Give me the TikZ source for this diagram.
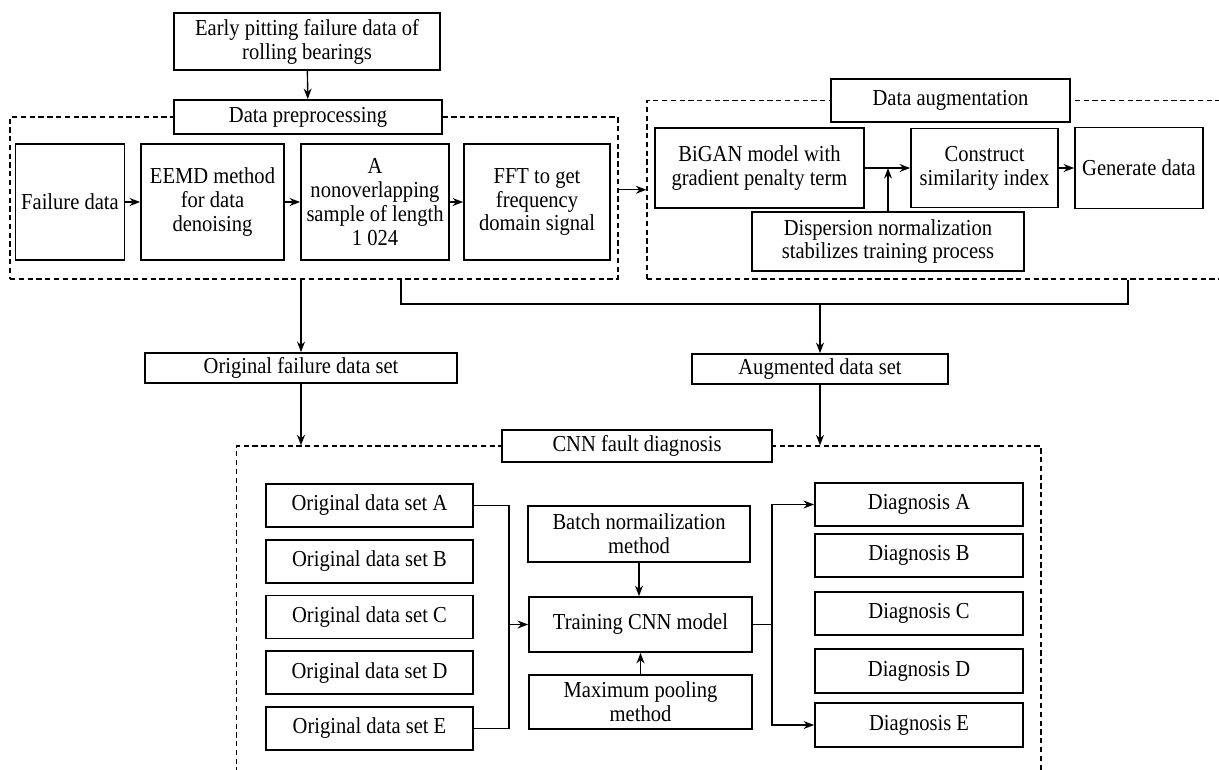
\documentclass[tikz,border=0pt]{standalone}
\usepackage{fontspec}
\setmainfont{Liberation Serif}[FakeStretch=0.9]
\usetikzlibrary{arrows.meta}
\tikzset{
  box/.style={draw, line width=1pt, fill=white, align=center, inner sep=0pt,
    font=\fontsize{13}{13.6}\selectfont},
  group/.style={draw, line width=0.7pt, dash pattern=on 3pt off 2pt, inner sep=0pt},
  link/.style={line width=0.8pt, -{Stealth[length=6pt,width=4.5pt]}},
  wire/.style={line width=0.8pt}
}
\begin{document}
\begin{tikzpicture}[x=0.02cm, y=-0.02cm]
\fill[white] (0,0) rectangle (1219,769);
\useasboundingbox (0,0) rectangle (1219,769);

% dashed groups
\node[group, minimum width=12.16cm, minimum height=3.24cm] (prepgrp) at (314,198) {};
\node[group, minimum width=11.86cm, minimum height=3.57cm] (auggrp) at (943.5,189.75) {};
\node[group, minimum width=16.09cm, minimum height=7.08cm] (cnngrp) at (638.75,623) {};

% preprocessing
\node[box, minimum width=5.32cm, minimum height=1.14cm] (top) at (307,41.5) {Early pitting failure data of\\rolling bearings};
\node[box, minimum width=5.36cm, minimum height=0.68cm] (prep) at (308,117) {Data preprocessing};
\node[box, minimum width=2.18cm, minimum height=2.32cm] (fail) at (70,202) {Failure data};
\node[box, minimum width=2.86cm, minimum height=2.32cm] (eemd) at (212.5,202) {EEMD method\\for data\\denoising};
\node[box, minimum width=2.96cm, minimum height=2.32cm] (samp) at (375,202) {A\\nonoverlapping\\sample of length\\1 024};
\node[box, minimum width=2.92cm, minimum height=2.32cm] (fft) at (537,202) {FFT to get\\frequency\\domain signal};

% augmentation
\node[box, minimum width=4.78cm, minimum height=0.86cm] (augt) at (950.5,100.5) {Data augmentation};
\node[box, minimum width=4.18cm, minimum height=1.60cm] (bigan) at (759.5,168) {BiGAN model with\\gradient penalty term};
\node[box, minimum width=2.94cm, minimum height=1.58cm] (cons) at (984.5,168) {Construct\\similarity index};
\node[box, minimum width=2.56cm, minimum height=1.62cm] (gen) at (1139,168) {Generate data};
\node[box, minimum width=5.44cm, minimum height=1.18cm] (disp) at (888,241.5) {Dispersion normalization\\stabilizes training process};

% data sets
\node[box, minimum width=6.24cm, minimum height=0.60cm] (orig) at (301,368) {Original failure data set};
\node[box, minimum width=5.12cm, minimum height=0.60cm] (augd) at (820,369) {Augmented data set};

% diagnosis
\node[box, minimum width=5.40cm, minimum height=0.64cm] (cnn) at (637,446) {CNN fault diagnosis};
\node[box, minimum width=4.14cm, minimum height=0.86cm] (oa) at (369.5,505.5) {Original data set A};
\node[box, minimum width=4.14cm, minimum height=0.86cm] (ob) at (369.5,561.25) {Original data set B};
\node[box, minimum width=4.14cm, minimum height=0.86cm] (oc) at (369.5,617) {Original data set C};
\node[box, minimum width=4.14cm, minimum height=0.86cm] (od) at (369.5,672.75) {Original data set D};
\node[box, minimum width=4.14cm, minimum height=0.86cm] (oe) at (369.5,728.5) {Original data set E};
\node[box, minimum width=4.44cm, minimum height=1.12cm] (batch) at (639,534) {Batch normailization\\method};
\node[box, minimum width=4.46cm, minimum height=1.10cm] (train) at (640.5,624.5) {Training CNN model};
\node[box, minimum width=4.46cm, minimum height=1.08cm] (maxp) at (640.5,702) {Maximum pooling\\method};
\node[box, minimum width=4.16cm, minimum height=0.86cm] (da) at (919,504.5) {Diagnosis A};
\node[box, minimum width=4.16cm, minimum height=0.86cm] (db) at (919,555.5) {Diagnosis B};
\node[box, minimum width=4.16cm, minimum height=0.86cm] (dc) at (919,613.5) {Diagnosis C};
\node[box, minimum width=4.16cm, minimum height=0.88cm] (dd) at (919,671) {Diagnosis D};
\node[box, minimum width=4.16cm, minimum height=0.88cm] (de) at (919,725) {Diagnosis E};

\coordinate (j1) at (401,304);
\coordinate (j2) at (1128,304);
\coordinate (lbus) at (509,624.5);
\coordinate (rbus) at (772,624.5);

\draw[link] (top) -- (prep);
\draw[link] (fail) -- (eemd);
\draw[link] (eemd) -- (samp);
\draw[link] (samp) -- (fft);
\draw[link] (prepgrp.east |- auggrp.west) -- (auggrp.west);
\draw[link] (bigan) -- (cons);
\draw[link] (disp) -- (disp |- bigan);
\draw[link] (cons) -- (gen);

\draw[link] (orig |- prepgrp.south) -- (orig);
\draw[wire] (j1 |- prepgrp.south) -- (j1) -- (j2) -- (j2 |- auggrp.south);
\draw[link] (j1 -| augd) -- (augd);
\draw[link] (orig) -- (orig |- cnngrp.north);
\draw[link] (augd) -- (augd |- cnngrp.north);

\draw[wire] (oa.east) -| (lbus);
\draw[wire] (oe.east) -| (lbus);
\draw[link] (lbus) -- (train);
\draw[link] (batch) -- (batch |- train.north);
\draw[link] (maxp) -- (train);
\draw[wire] (train) -- (rbus);
\draw[link] (rbus) |- (da);
\draw[link] (rbus) |- (de);
\end{tikzpicture}
\end{document}
